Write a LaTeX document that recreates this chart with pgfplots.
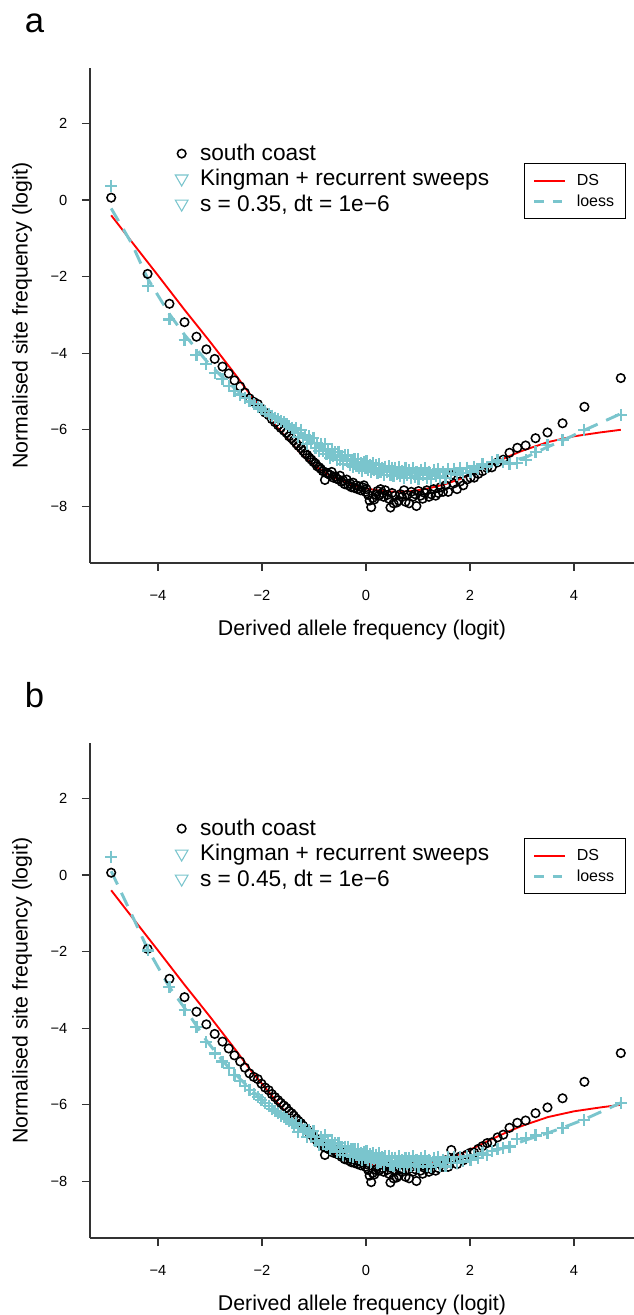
\documentclass[border=0pt]{standalone}
\usepackage{pgfplots}
\usepackage{pgfplotstable}
\pgfplotsset{compat=1.18}
\usepackage{fontspec}
\setmainfont{Liberation Sans}
\definecolor{cadet}{HTML}{7AC5CD}

\pgfplotstableread{
x y
-4.90 0.06
-4.20 -1.93
-3.78 -2.71
-3.49 -3.19
-3.26 -3.57
-3.07 -3.90
-2.91 -4.15
-2.76 -4.35
-2.64 -4.53
-2.53 -4.71
-2.42 -4.87
-2.33 -5.03
-2.24 -5.18
-2.16 -5.27
-2.08 -5.33
-2.01 -5.45
-1.94 -5.55
-1.87 -5.62
-1.81 -5.72
-1.75 -5.80
-1.69 -5.88
-1.64 -5.95
-1.58 -6.02
-1.53 -6.08
-1.48 -6.17
-1.43 -6.22
-1.39 -6.28
-1.34 -6.36
-1.30 -6.42
-1.25 -6.48
-1.21 -6.55
-1.17 -6.62
-1.13 -6.66
-1.09 -6.73
-1.05 -6.78
-1.01 -6.84
-0.97 -6.88
-0.94 -6.95
-0.90 -6.98
-0.87 -7.02
-0.83 -7.08
-0.79 -7.31
-0.76 -7.12
-0.73 -7.15
-0.69 -7.18
-0.66 -7.10
-0.63 -7.25
-0.59 -7.22
-0.56 -7.28
-0.53 -7.30
-0.50 -7.20
-0.47 -7.36
-0.44 -7.32
-0.41 -7.42
-0.37 -7.30
-0.34 -7.45
-0.31 -7.40
-0.28 -7.50
-0.25 -7.38
-0.22 -7.52
-0.19 -7.45
-0.16 -7.55
-0.13 -7.48
-0.10 -7.58
-0.07 -7.50
-0.04 -7.45
-0.01 -7.62
0.01 -7.55
0.04 -7.70
0.07 -7.85
0.10 -8.02
0.13 -7.78
0.16 -7.82
0.19 -7.70
0.22 -7.60
0.25 -7.72
0.28 -7.55
0.31 -7.65
0.34 -7.75
0.37 -7.58
0.41 -7.70
0.44 -7.80
0.47 -8.03
0.50 -7.65
0.53 -7.92
0.56 -7.72
0.59 -7.90
0.63 -7.85
0.66 -7.68
0.69 -7.75
0.73 -7.58
0.76 -7.88
0.79 -7.70
0.83 -7.92
0.87 -7.62
0.90 -7.75
0.94 -7.68
0.97 -7.99
1.01 -7.60
1.05 -7.72
1.09 -7.80
1.13 -7.65
1.17 -7.58
1.21 -7.75
1.25 -7.68
1.30 -7.55
1.34 -7.72
1.39 -7.65
1.43 -7.50
1.48 -7.62
1.53 -7.45
1.58 -7.62
1.64 -7.18
1.69 -7.40
1.75 -7.55
1.81 -7.35
1.87 -7.45
1.94 -7.30
2.01 -7.25
2.08 -7.25
2.16 -7.15
2.24 -7.08
2.33 -7.00
2.42 -6.98
2.53 -6.85
2.64 -6.78
2.76 -6.60
2.91 -6.47
3.07 -6.41
3.26 -6.22
3.49 -6.07
3.78 -5.83
4.20 -5.40
4.90 -4.65
}\circdata

\pgfplotstableread{
x y
-4.90 0.37
-4.20 -2.25
-3.78 -3.12
-3.49 -3.66
-3.26 -4.05
-3.07 -4.28
-2.91 -4.51
-2.76 -4.68
-2.64 -4.85
-2.53 -4.98
-2.42 -5.08
-2.33 -5.17
-2.24 -5.26
-2.16 -5.33
-2.08 -5.40
-2.01 -5.45
-1.94 -5.52
-1.87 -5.58
-1.81 -5.63
-1.75 -5.68
-1.69 -5.72
-1.64 -5.78
-1.58 -5.80
-1.53 -5.86
-1.48 -5.90
-1.43 -5.95
-1.39 -6.00
-1.34 -5.96
-1.30 -6.18
-1.25 -6.00
-1.21 -6.21
-1.17 -6.14
-1.13 -6.36
-1.09 -6.17
-1.05 -6.35
-1.01 -6.21
-0.97 -6.47
-0.94 -6.35
-0.90 -6.56
-0.87 -6.37
-0.83 -6.55
-0.79 -6.38
-0.76 -6.64
-0.73 -6.52
-0.69 -6.73
-0.66 -6.50
-0.63 -6.68
-0.59 -6.58
-0.56 -6.80
-0.53 -6.57
-0.50 -6.80
-0.47 -6.69
-0.44 -6.90
-0.41 -6.67
-0.37 -6.82
-0.34 -6.67
-0.31 -6.92
-0.28 -6.78
-0.25 -6.98
-0.22 -6.77
-0.19 -6.94
-0.16 -6.77
-0.13 -7.01
-0.10 -6.87
-0.07 -7.07
-0.04 -6.84
-0.01 -7.00
0.01 -6.82
0.04 -7.05
0.07 -6.91
0.10 -7.11
0.13 -6.88
0.16 -7.04
0.19 -6.92
0.22 -7.14
0.25 -6.89
0.28 -7.11
0.31 -6.99
0.34 -7.19
0.37 -6.96
0.41 -7.09
0.44 -6.95
0.47 -7.18
0.50 -7.01
0.53 -7.21
0.56 -7.00
0.59 -7.15
0.63 -6.97
0.66 -7.20
0.69 -7.07
0.73 -7.25
0.76 -7.01
0.79 -7.17
0.83 -7.05
0.87 -7.25
0.90 -7.00
0.94 -7.22
0.97 -7.09
1.01 -7.29
1.05 -7.04
1.09 -7.18
1.13 -7.01
1.17 -7.25
1.21 -7.09
1.25 -7.28
1.30 -7.06
1.34 -7.21
1.39 -7.02
1.43 -7.25
1.48 -7.09
1.53 -7.27
1.58 -7.02
1.64 -7.16
1.69 -7.02
1.75 -7.18
1.81 -7.01
1.87 -7.13
1.94 -6.99
2.01 -7.09
2.08 -6.96
2.16 -7.03
2.24 -6.90
2.33 -6.96
2.42 -6.85
2.53 -6.80
2.64 -6.85
2.76 -6.90
2.91 -6.87
3.07 -6.79
3.26 -6.57
3.49 -6.40
3.78 -6.27
4.20 -6.00
4.90 -5.61
}\cyana

\pgfplotstableread{
x y
-4.90 0.48
-4.20 -1.97
-3.78 -2.92
-3.49 -3.52
-3.26 -3.97
-3.07 -4.37
-2.91 -4.66
-2.76 -4.87
-2.64 -5.05
-2.53 -5.22
-2.42 -5.38
-2.33 -5.50
-2.24 -5.62
-2.16 -5.72
-2.08 -5.80
-2.01 -5.88
-1.94 -5.95
-1.87 -6.03
-1.81 -6.10
-1.75 -6.16
-1.69 -6.22
-1.64 -6.28
-1.58 -6.33
-1.53 -6.38
-1.48 -6.43
-1.43 -6.47
-1.39 -6.52
-1.34 -6.48
-1.30 -6.70
-1.25 -6.52
-1.21 -6.69
-1.17 -6.62
-1.13 -6.84
-1.09 -6.65
-1.05 -6.83
-1.01 -6.69
-0.97 -6.95
-0.94 -6.83
-0.90 -7.04
-0.87 -6.85
-0.83 -7.03
-0.79 -6.80
-0.76 -7.06
-0.73 -6.94
-0.69 -7.15
-0.66 -6.92
-0.63 -7.10
-0.59 -7.00
-0.56 -7.22
-0.53 -6.99
-0.50 -7.22
-0.47 -7.11
-0.44 -7.32
-0.41 -7.09
-0.37 -7.24
-0.34 -7.09
-0.31 -7.34
-0.28 -7.16
-0.25 -7.36
-0.22 -7.15
-0.19 -7.32
-0.16 -7.15
-0.13 -7.39
-0.10 -7.25
-0.07 -7.45
-0.04 -7.22
-0.01 -7.38
0.01 -7.20
0.04 -7.43
0.07 -7.29
0.10 -7.49
0.13 -7.26
0.16 -7.42
0.19 -7.30
0.22 -7.52
0.25 -7.27
0.28 -7.49
0.31 -7.37
0.34 -7.57
0.37 -7.34
0.41 -7.47
0.44 -7.33
0.47 -7.56
0.50 -7.39
0.53 -7.59
0.56 -7.38
0.59 -7.53
0.63 -7.35
0.66 -7.58
0.69 -7.45
0.73 -7.63
0.76 -7.39
0.79 -7.55
0.83 -7.39
0.87 -7.59
0.90 -7.34
0.94 -7.56
0.97 -7.43
1.01 -7.63
1.05 -7.38
1.09 -7.52
1.13 -7.35
1.17 -7.59
1.21 -7.43
1.25 -7.62
1.30 -7.40
1.34 -7.55
1.39 -7.36
1.43 -7.59
1.48 -7.43
1.53 -7.61
1.58 -7.36
1.64 -7.51
1.69 -7.37
1.75 -7.53
1.81 -7.36
1.87 -7.48
1.94 -7.34
2.01 -7.44
2.08 -7.31
2.16 -7.38
2.24 -7.25
2.33 -7.31
2.42 -7.20
2.53 -7.15
2.64 -7.12
2.76 -7.09
2.91 -6.90
3.07 -6.86
3.26 -6.80
3.49 -6.74
3.78 -6.61
4.20 -6.40
4.90 -5.96
}\cyanb

\pgfplotstableread{
x y
-4.90 -0.40
-4.50 -1.10
-4.00 -1.97
-3.50 -2.85
-3.00 -3.70
-2.50 -4.58
-2.20 -5.13
-2.00 -5.45
-1.70 -5.95
-1.40 -6.40
-1.20 -6.70
-1.00 -6.93
-0.75 -7.15
-0.50 -7.32
-0.25 -7.45
0.00 -7.53
0.30 -7.60
0.60 -7.62
0.90 -7.60
1.20 -7.53
1.50 -7.43
1.80 -7.29
2.10 -7.11
2.40 -6.91
2.70 -6.72
3.00 -6.55
3.50 -6.32
4.00 -6.17
4.50 -6.07
4.90 -6.00
}\dsdata

\pgfplotstableread{
x y
-4.90 -0.22
-4.50 -1.15
-4.20 -2.05
-3.78 -2.98
-3.49 -3.52
-3.07 -4.20
-2.76 -4.63
-2.50 -4.95
-2.20 -5.28
-2.00 -5.47
-1.70 -5.74
-1.50 -5.90
-1.25 -6.12
-1.00 -6.34
-0.75 -6.54
-0.50 -6.72
-0.25 -6.85
0.00 -6.95
0.25 -7.03
0.50 -7.08
0.75 -7.12
1.00 -7.14
1.25 -7.15
1.50 -7.13
1.75 -7.08
2.00 -7.02
2.25 -6.95
2.50 -6.87
2.76 -6.82
3.07 -6.72
3.49 -6.45
3.78 -6.28
4.20 -6.01
4.90 -5.58
}\loessa

\pgfplotstableread{
x y
-4.90 0.10
-4.50 -1.05
-4.20 -1.93
-3.78 -2.93
-3.49 -3.47
-3.07 -4.32
-2.76 -4.85
-2.50 -5.22
-2.20 -5.62
-2.00 -5.86
-1.70 -6.16
-1.50 -6.38
-1.25 -6.60
-1.00 -6.80
-0.75 -6.97
-0.50 -7.11
-0.25 -7.22
0.00 -7.31
0.25 -7.38
0.50 -7.43
0.75 -7.46
1.00 -7.47
1.25 -7.47
1.50 -7.44
1.75 -7.40
2.00 -7.35
2.25 -7.28
2.50 -7.19
2.76 -7.08
3.07 -6.92
3.49 -6.74
3.78 -6.60
4.20 -6.38
4.90 -5.95
}\loessb

\pgfplotsset{
  panel/.style={
    scale only axis, width=408pt, height=371.25pt,
    xmin=-5.3077, xmax=5.1538, ymin=-9.478, ymax=3.446,
    axis x line*=bottom, axis y line*=left,
    axis line style={-, line width=0.8pt, black!80},
    tick align=outside, major tick length=6pt,
    tick style={line width=0.8pt, black!80},
    xtick={-4,-2,0,2,4}, xticklabels={−4,−2,0,2,4},
    ytick={-8,-6,-4,-2,0,2}, yticklabels={−8,−6,−4,−2,0,2},
    ticklabel style={font=\fontsize{11}{13}\selectfont},
    xticklabel shift=11pt, yticklabel shift=7.5pt,
    xlabel={Derived allele frequency (logit)},
    ylabel={Normalised site frequency (logit)},
    label style={font=\fontsize{16}{19}\selectfont},
    xlabel style={at={(axis description cs:0.5,-0.135)}, anchor=center},
    ylabel style={at={(axis description cs:-0.125,0.5)}, anchor=center},
    clip=false,
  },
  leftleg/.style={
    legend cell align=left,
    legend style={draw=none, fill=none, at={(axis description cs:0.149,0.857)},
      anchor=north west, font=\fontsize{17}{20}\selectfont, row sep=1pt,
      /tikz/every odd column/.append style={column sep=7pt}},
  },
  rightleg/.style={
    legend cell align=left,
    legend style={draw=black, line width=0.6pt, fill=white,
      at={(axis description cs:0.985,0.808)}, anchor=north east,
      font=\fontsize{12}{14}\selectfont, row sep=1.5pt,
      inner xsep=6.5pt, inner ysep=6pt,
      /tikz/every odd column/.append style={column sep=6pt}},
    legend image code/.code={\draw[##1] (0cm,0cm) -- (0.8cm,0cm);},
  },
  circ/.style={only marks, mark=o, mark size=3.2pt, mark options={line width=1.15pt, black}},
  plus/.style={only marks, mark=+, mark size=4.5pt, mark options={line width=1.6pt, cadet}},
  tri/.style={only marks, mark=triangle, mark size=5.5pt, mark options={line width=0.8pt, cadet, rotate=180}},
  dsline/.style={red, line width=1.4pt},
  loessline/.style={cadet, line width=2.2pt, dash pattern=on 11pt off 7pt},
}

\begin{document}
\begin{tikzpicture}
\useasboundingbox (0,0) rectangle (475.5pt,986.25pt);

% ---------- panel a ----------
\begin{axis}[panel, leftleg, at={(67.5pt,564pt)}, anchor=south west]
\addplot[circ, forget plot] table {\circdata};
\addplot[dsline, forget plot] table {\dsdata};
\addplot[plus, forget plot] table {\cyana};
\addplot[loessline, forget plot] table {\loessa};
\addlegendimage{circ}
\addlegendentry{south coast}
\addlegendimage{tri}
\addlegendentry{Kingman + recurrent sweeps}
\addlegendimage{tri}
\addlegendentry{s = 0.35, dt = 1e−6}
\end{axis}
\begin{axis}[panel, hide axis, rightleg, at={(67.5pt,564pt)}, anchor=south west]
\addplot[draw=none, forget plot] coordinates {(0,0)};
\addlegendimage{dsline}
\addlegendentry{DS}
\addlegendimage{cadet, line width=2.2pt, dash pattern=on 7pt off 7pt}
\addlegendentry{loess\rule[-6pt]{0pt}{1pt}}
\end{axis}

% ---------- panel b ----------
\begin{axis}[panel, leftleg, at={(67.5pt,57.75pt)}, anchor=south west]
\addplot[circ, forget plot] table {\circdata};
\addplot[dsline, forget plot] table {\dsdata};
\addplot[plus, forget plot] table {\cyanb};
\addplot[loessline, forget plot] table {\loessb};
\addlegendimage{circ}
\addlegendentry{south coast}
\addlegendimage{tri}
\addlegendentry{Kingman + recurrent sweeps}
\addlegendimage{tri}
\addlegendentry{s = 0.45, dt = 1e−6}
\end{axis}
\begin{axis}[panel, hide axis, rightleg, at={(67.5pt,57.75pt)}, anchor=south west]
\addplot[draw=none, forget plot] coordinates {(0,0)};
\addlegendimage{dsline}
\addlegendentry{DS}
\addlegendimage{cadet, line width=2.2pt, dash pattern=on 7pt off 7pt}
\addlegendentry{loess\rule[-6pt]{0pt}{1pt}}
\end{axis}

\node[anchor=base west, font=\fontsize{26}{30}\selectfont, inner sep=0pt] at (18.5pt,962pt) {a};
\node[anchor=base west, font=\fontsize{26}{30}\selectfont, inner sep=0pt] at (18.5pt,455.5pt) {b};
\end{tikzpicture}
\end{document}
